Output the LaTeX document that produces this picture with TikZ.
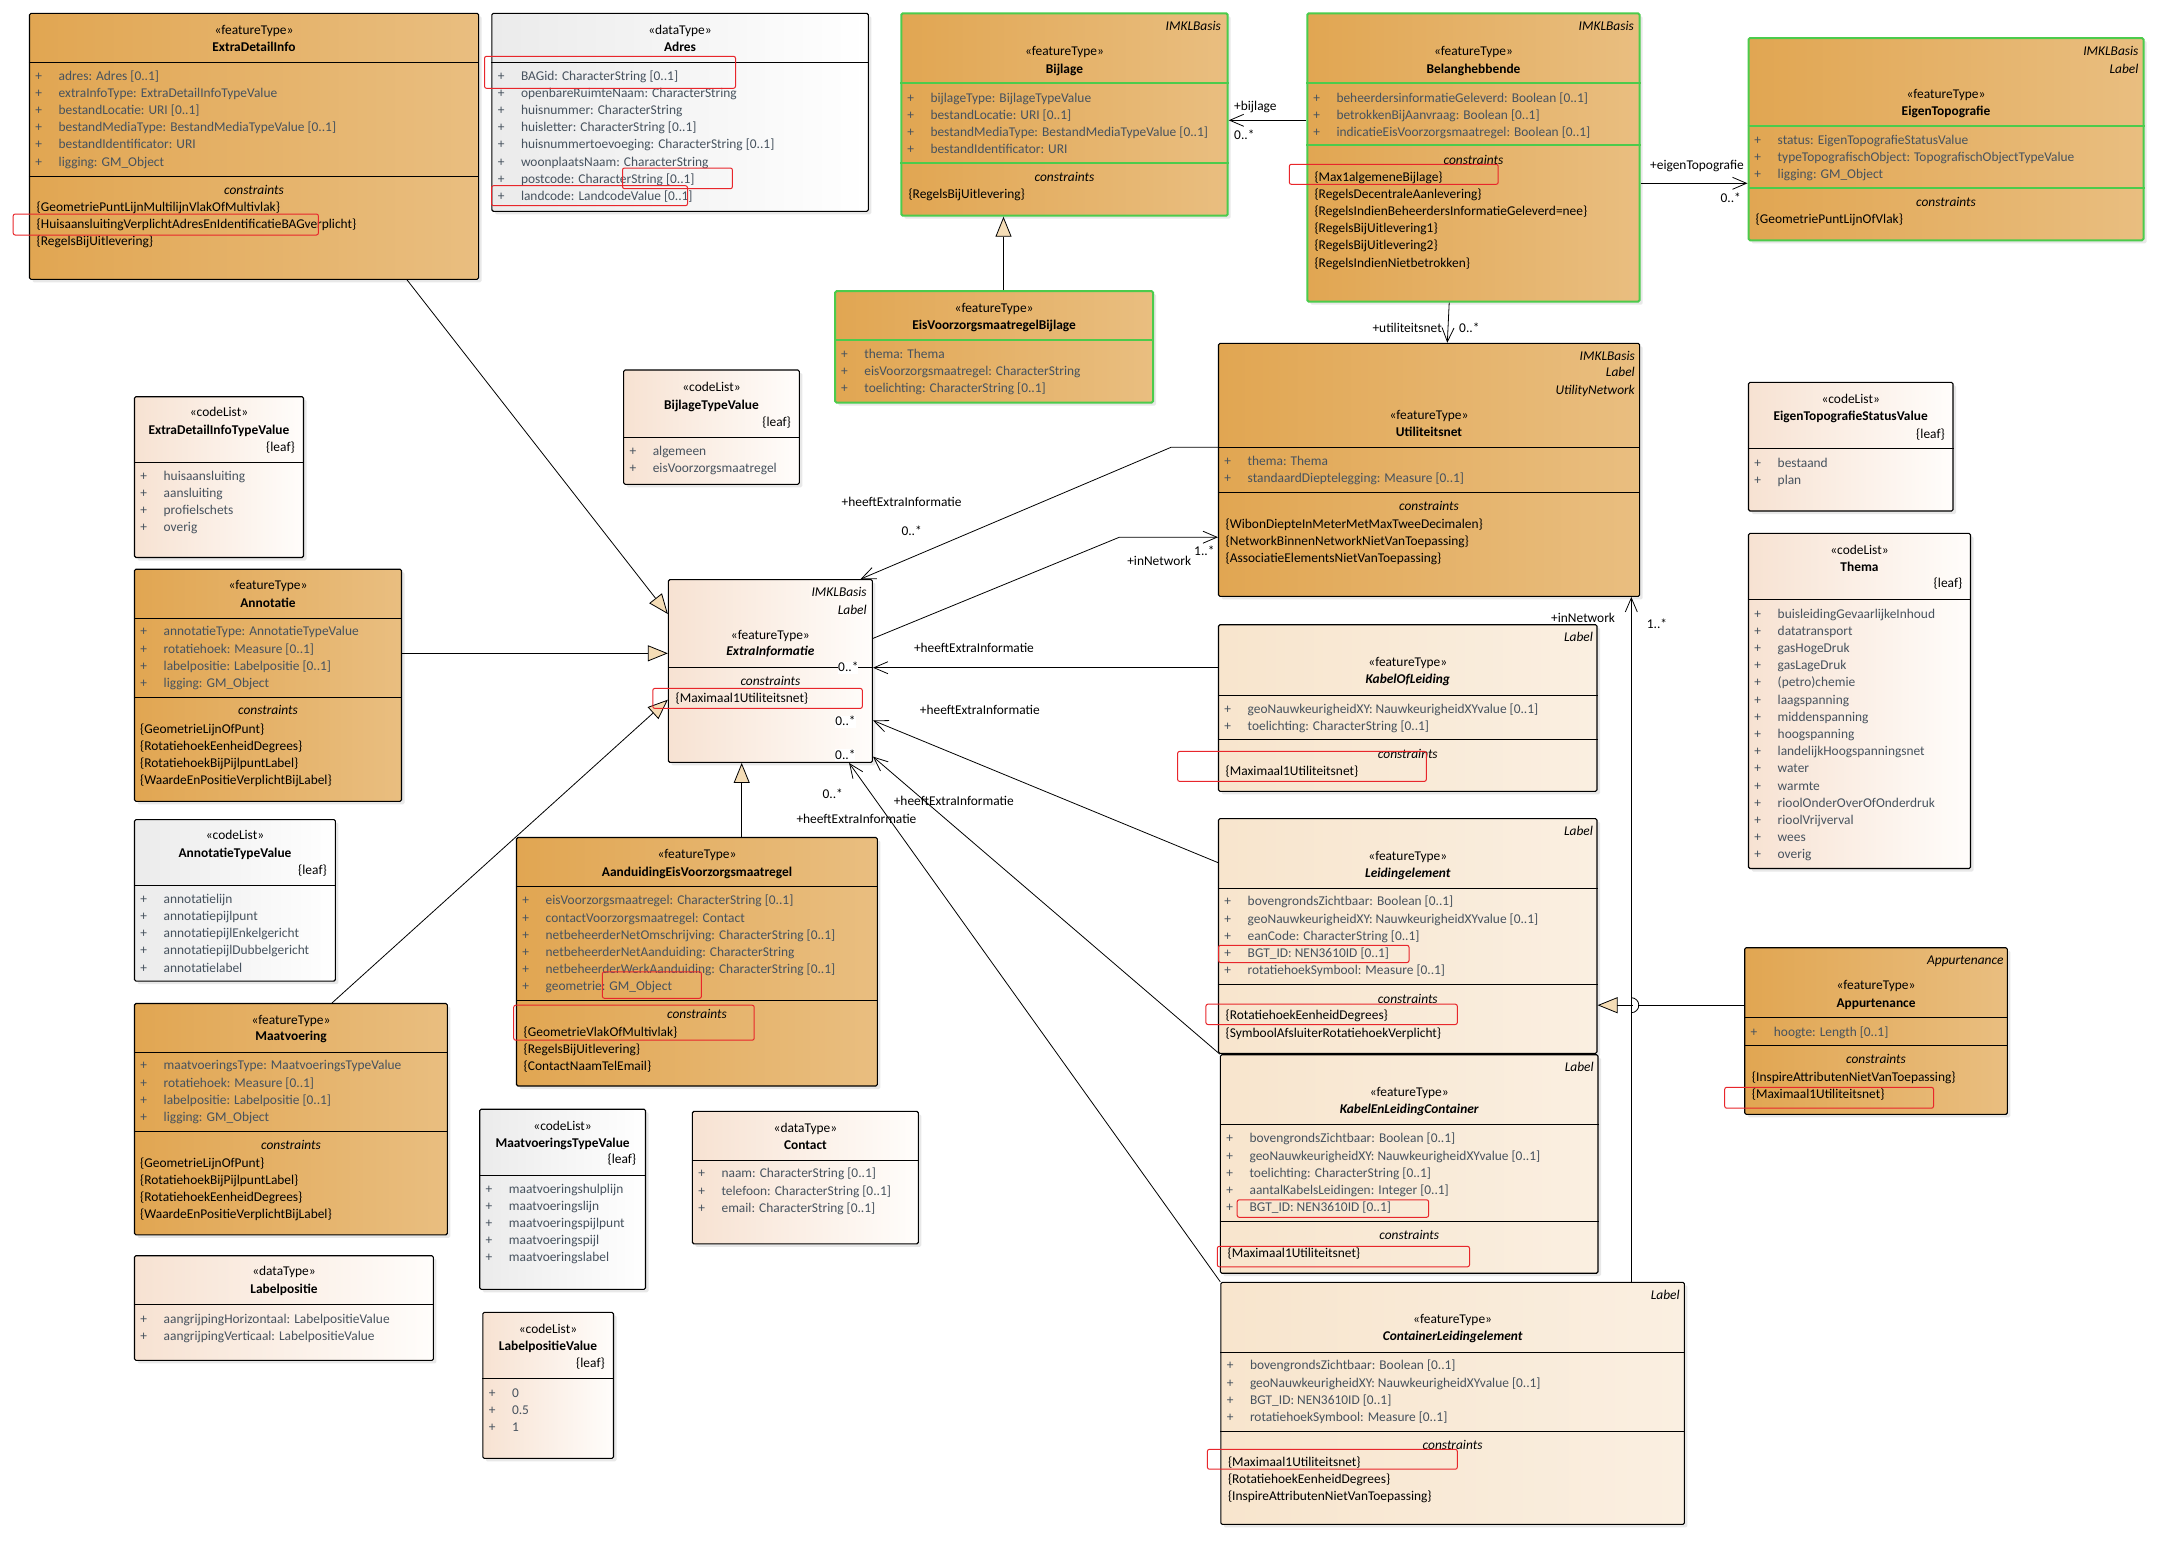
\documentclass[tikz,border=0pt]{standalone}
\usepackage{fontspec}
\setmainfont{Carlito}
\usetikzlibrary{arrows.meta, positioning, fit, shadows}
\definecolor{ftl}{HTML}{E1A652}
\definecolor{ftr}{HTML}{E9BE80}
\definecolor{cll}{HTML}{F7E2D2}
\definecolor{clr}{HTML}{FFFDFB}
\definecolor{grl}{HTML}{EBEBEB}
\definecolor{grr}{HTML}{FFFFFF}
\definecolor{bgl}{HTML}{F8E5CD}
\definecolor{bgr}{HTML}{FAEFE1}
\definecolor{grn}{HTML}{4CCB4C}
\definecolor{attrc}{HTML}{46525E}
\definecolor{tanc}{HTML}{F5DDB6}
\definecolor{markc}{HTML}{E8262B}

\newcommand{\attrrows}[4]{%
  \foreach \t [count=\i] in {#4} {%
    \node[plus] (#1p\i) at (#2+9.3, #3+17.2*\i-17.2) {+};
    \node[attr] (#1a\i) at (#2+29, #3+17.2*\i-17.2) {\t};
  }}
\newcommand{\consrows}[4]{%
  \foreach \t [count=\i] in {#4}
    \node[cons] (#1c\i) at (#2+7, #3+17.2*\i-17.2) {\t};}

\begin{document}
\begin{tikzpicture}[x=1pt, y=-1pt,
    font=\fontsize{13.4}{16}\selectfont,
    box/.style={draw, line width=1.1pt, rounded corners=1.5pt, inner sep=0pt,
      drop shadow={shadow xshift=3pt, shadow yshift=-3pt, opacity=0.18}},
    ftbox/.style={box, left color=ftl, right color=ftr},
    ftgbox/.style={ftbox, draw=grn, line width=2pt},
    clbox/.style={box, left color=cll, right color=clr},
    grbox/.style={box, left color=grl, right color=grr},
    lbbox/.style={box, left color=bgl, right color=bgr},
    seprule/.style={line width=1.1pt},
    gseprule/.style={draw=grn, line width=2pt},
    txt/.style={inner sep=0pt, text height=10pt, text depth=2pt},
    stereo/.style={txt},
    cname/.style={txt, font=\fontsize{13.4}{16}\selectfont\bfseries},
    aname/.style={txt, font=\fontsize{13.4}{16}\selectfont\bfseries\itshape},
    ctitle/.style={txt, font=\fontsize{13.4}{16}\selectfont\itshape},
    tag/.style={txt, anchor=east, font=\fontsize{13.4}{16}\selectfont\itshape},
    leaf/.style={txt, anchor=east},
    plus/.style={txt, text=attrc},
    attr/.style={txt, anchor=west, text=attrc},
    cons/.style={txt, anchor=west},
    role/.style={txt, anchor=west},
    mult/.style={txt, anchor=west, fill=white},
    redbox/.style={draw=markc, line width=1pt, rounded corners=2pt, inner sep=0pt},
    gen/.style={line width=0.8pt, -{Triangle[length=20pt, width=16pt, fill=tanc]}},
    assoc/.style={line width=0.8pt, -{Straight Barb[length=14pt, width=12pt]}}
  ]
  \useasboundingbox (0,0) rectangle (2171,1548);
  \fill[white] (0,0) rectangle (2171,1548);

  % boxes
  \node[ftbox, fit={(29.5,13.3) (478.6,279.3)}] (edi) {};
  \node[grbox, fit={(491.8,13.3) (868.3,211.3)}] (adres) {};
  \node[ftgbox, fit={(901.3,13.3) (1227.7,215.7)}] (bij) {};
  \node[ftgbox, fit={(835.2,291) (1153,402.7)}] (evb) {};
  \node[ftgbox, fit={(1307.3,13.3) (1639.6,301.7)}] (bel) {};
  \node[ftgbox, fit={(1748.5,38) (2143.5,240.3)}] (eto) {};
  \node[clbox, fit={(1748.5,382.3) (1953,511)}] (etsv) {};
  \node[clbox, fit={(1748.5,533.4) (1970.5,868.5)}] (thema) {};
  \node[ftbox, fit={(1744.7,947.7) (2007.4,1114.3)}] (app) {};
  \node[ftbox, fit={(1218.5,343.3) (1639.6,596.4)}] (util) {};
  \node[clbox, fit={(668.4,579.6) (872.4,762.4)}] (einf) {};
  \node[clbox, fit={(134.5,396.7) (303.5,557.5)}] (editv) {};
  \node[ftbox, fit={(134.5,569.2) (401.5,801.3)}] (ann) {};
  \node[grbox, fit={(134.5,819.6) (335.4,981.1)}] (atv) {};
  \node[ftbox, fit={(134.5,1003.5) (447.4,1234.8)}] (maat) {};
  \node[clbox, fit={(134.5,1255.7) (433.4,1360.4)}] (lpos) {};
  \node[ftbox, fit={(516.5,837.5) (877.3,1086)}] (aevm) {};
  \node[grbox, fit={(479.7,1109.2) (645.5,1289.4)}] (mtv) {};
  \node[clbox, fit={(692.4,1111.3) (918.3,1243.9)}] (contact) {};
  \node[clbox, fit={(482.8,1312.3) (613.5,1458.4)}] (lpv) {};
  \node[clbox, fit={(623.6,370) (799.4,484.3)}] (btv) {};
  \node[lbbox, fit={(1218.5,624.7) (1597,791.4)}] (kol) {};
  \node[lbbox, fit={(1218.5,818.6) (1597,1053.3)}] (le) {};
  \node[lbbox, fit={(1220.4,1054.7) (1598,1273.2)}] (kelc) {};
  \node[lbbox, fit={(1220.8,1282.3) (1684.4,1524.4)}] (cle) {};

  % compartments
  \foreach \b/\y in {edi/62.3, edi/176.3, adres/62.3, etsv/448.7, thema/599.2,
      app/1017.3, app/1045.3, util/447.3, util/492.3, einf/667.7, editv/462.3,
      ann/618.8, ann/697.3, atv/885.4, maat/1052.7, maat/1131.5, lpos/1304.5,
      aevm/886.4, aevm/1000.4, mtv/1175.2, contact/1160.4, lpv/1378.3, btv/437.3,
      kol/695.6, kol/739.4, le/888.8, le/984.2, kelc/1124.4, kelc/1221.4,
      cle/1352.3, cle/1431.5}
    \draw[seprule] (\b.west |- 0,\y) -- (\b.east |- 0,\y);
  \foreach \b/\y in {bij/82.7, bij/163, evb/340, bel/82.7, bel/144.7, eto/126.3, eto/188}
    \draw[gseprule] (\b.west |- 0,\y) -- (\b.east |- 0,\y);

  % ExtraDetailInfo
  \node[stereo] (edis) at (254,30) {«featureType»};
  \node[cname] (edin) at (254,47) {ExtraDetailInfo};
  \attrrows{edi}{29.5}{76}{adres: Adres [0..1], extraInfoType: ExtraDetailInfoTypeValue, bestandLocatie: URI [0..1], bestandMediaType: BestandMediaTypeValue [0..1], bestandIdentificator: URI, ligging: GM\_Object}
  \node[ctitle] (edik) at (254,190) {constraints};
  \consrows{edi}{29.5}{207}{\{GeometriePuntLijnMultilijnVlakOfMultivlak\}, \{HuisaansluitingVerplichtAdresEnIdentificatieBAGverplicht\}, \{RegelsBijUitlevering\}}

  % Adres
  \node[stereo] (adress) at (680,30) {«dataType»};
  \node[cname] (adresn) at (680,47) {Adres};
  \attrrows{adres}{491.8}{76}{BAGid: CharacterString [0..1], openbareRuimteNaam: CharacterString, huisnummer: CharacterString, huisletter: CharacterString [0..1], huisnummertoevoeging: CharacterString [0..1], woonplaatsNaam: CharacterString, postcode: CharacterString [0..1], landcode: LandcodeValue [0..1]}

  % Bijlage
  \node[tag] (bijt) at (1221,26) {IMKLBasis};
  \node[stereo] (bijs) at (1064.5,51) {«featureType»};
  \node[cname] (bijn) at (1064.5,69) {Bijlage};
  \attrrows{bij}{901.3}{98}{bijlageType: BijlageTypeValue, bestandLocatie: URI [0..1], bestandMediaType: BestandMediaTypeValue [0..1], bestandIdentificator: URI}
  \node[ctitle] (bijk) at (1064.5,177) {constraints};
  \consrows{bij}{901.3}{194}{\{RegelsBijUitlevering\}}

  % EisVoorzorgsmaatregelBijlage
  \node[stereo] (evbs) at (994.1,308) {«featureType»};
  \node[cname] (evbn) at (994.1,325) {EisVoorzorgsmaatregelBijlage};
  \attrrows{evb}{835.2}{354}{thema: Thema, eisVoorzorgsmaatregel: CharacterString, toelichting: CharacterString [0..1]}

  % Belanghebbende
  \node[tag] (belt) at (1634,26) {IMKLBasis};
  \node[stereo] (bels) at (1473.5,51) {«featureType»};
  \node[cname] (beln) at (1473.5,69) {Belanghebbende};
  \attrrows{bel}{1307.3}{98}{beheerdersinformatieGeleverd: Boolean [0..1], betrokkenBijAanvraag: Boolean [0..1], indicatieEisVoorzorgsmaatregel: Boolean [0..1]}
  \node[ctitle] (belk) at (1473.5,160) {constraints};
  \consrows{bel}{1307.3}{177}{\{Max1algemeneBijlage\}, \{RegelsDecentraleAanlevering\}, \{RegelsIndienBeheerdersInformatieGeleverd=nee\}, \{RegelsBijUitlevering1\}, \{RegelsBijUitlevering2\}, \{RegelsIndienNietbetrokken\}}

  % EigenTopografie
  \node[tag] (etot1) at (2138.6,51) {IMKLBasis};
  \node[tag] (etot2) at (2138.6,69) {Label};
  \node[stereo] (etos) at (1946,94) {«featureType»};
  \node[cname] (eton) at (1946,111) {EigenTopografie};
  \attrrows{eto}{1748.5}{140}{status: EigenTopografieStatusValue, typeTopografischObject: TopografischObjectTypeValue, ligging: GM\_Object}
  \node[ctitle] (etok) at (1946,202) {constraints};
  \consrows{eto}{1748.5}{219}{\{GeometriePuntLijnOfVlak\}}

  % EigenTopografieStatusValue
  \node[stereo] (etsvs) at (1850.7,399) {«codeList»};
  \node[cname] (etsvn) at (1850.7,416) {EigenTopografieStatusValue};
  \node[leaf] (etsvl) at (1945,434) {\{leaf\}};
  \attrrows{etsv}{1748.5}{463}{bestaand, plan}

  % Thema
  \node[stereo] (themas) at (1859.5,550) {«codeList»};
  \node[cname] (teman) at (1859.5,567) {Thema};
  \node[leaf] (themal) at (1962.5,583.7) {\{leaf\}};
  \attrrows{thema}{1748.5}{614}{buisleidingGevaarlijkeInhoud, datatransport, gasHogeDruk, gasLageDruk, (petro)chemie, laagspanning, middenspanning, hoogspanning, landelijkHoogspanningsnet, water, warmte, rioolOnderOverOfOnderdruk, rioolVrijverval, wees, overig}

  % Appurtenance
  \node[tag] (appt) at (2003.6,960) {Appurtenance};
  \node[stereo] (apps) at (1876,985) {«featureType»};
  \node[cname] (appn) at (1876,1003) {Appurtenance};
  \attrrows{app}{1744.7}{1032}{hoogte: Length [0..1]}
  \node[ctitle] (appk) at (1876,1059) {constraints};
  \consrows{app}{1744.7}{1077}{\{InspireAttributenNietVanToepassing\}, \{Maximaal1Utiliteitsnet\}}

  % Utiliteitsnet
  \node[tag] (utilt1) at (1635,356) {IMKLBasis};
  \node[tag] (utilt2) at (1635,372.7) {Label};
  \node[tag] (utilt3) at (1635,390) {UtilityNetwork};
  \node[stereo] (utils) at (1429,415) {«featureType»};
  \node[cname] (utiln) at (1429,432) {Utiliteitsnet};
  \attrrows{util}{1218.5}{461}{thema: Thema, standaardDieptelegging: Measure [0..1]}
  \node[ctitle] (utilk) at (1429,506.3) {constraints};
  \consrows{util}{1218.5}{524.1}{\{WibonDiepteInMeterMetMaxTweeDecimalen\}, \{NetworkBinnenNetworkNietVanToepassing\}, \{AssociatieElementsNietVanToepassing\}}

  % ExtraInformatie
  \node[tag] (einft1) at (866.9,592) {IMKLBasis};
  \node[tag] (einft2) at (866.9,610) {Label};
  \node[stereo] (einfs) at (770.4,635) {«featureType»};
  \node[aname] (einfn) at (770.4,651.9) {ExtraInformatie};
  \node[ctitle] (einfk) at (770.4,681) {constraints};
  \consrows{einf}{668.4}{698}{\{Maximaal1Utiliteitsnet\}}

  % ExtraDetailInfoTypeValue
  \node[stereo] (editvs) at (219,412) {«codeList»};
  \node[cname] (editvn) at (219,430) {ExtraDetailInfoTypeValue};
  \node[leaf] (editvl) at (295,447) {\{leaf\}};
  \attrrows{editv}{134.5}{476}{huisaansluiting, aansluiting, profielschets, overig}

  % Annotatie
  \node[stereo] (anns) at (268,585.8) {«featureType»};
  \node[cname] (annn) at (268,603) {Annotatie};
  \attrrows{ann}{134.5}{631.9}{annotatieType: AnnotatieTypeValue, rotatiehoek: Measure [0..1], labelpositie: Labelpositie [0..1], ligging: GM\_Object}
  \node[ctitle] (annk) at (268,710.8) {constraints};
  \consrows{ann}{133}{729}{\{GeometrieLijnOfPunt\}, \{RotatiehoekEenheidDegrees\}, \{RotatiehoekBijPijlpuntLabel\}, \{WaardeEnPositieVerplichtBijLabel\}}

  % AnnotatieTypeValue
  \node[stereo] (atvs) at (235,835.8) {«codeList»};
  \node[cname] (atvn) at (235,853) {AnnotatieTypeValue};
  \node[leaf] (atvl) at (327,870.2) {\{leaf\}};
  \attrrows{atv}{134.5}{899.2}{annotatielijn, annotatiepijlpunt, annotatiepijlEnkelgericht, annotatiepijlDubbelgericht, annotatielabel}

  % Maatvoering
  \node[stereo] (maats) at (291,1020) {«featureType»};
  \node[cname] (maatn) at (291,1036.8) {Maatvoering};
  \attrrows{maat}{134.5}{1065.8}{maatvoeringsType: MaatvoeringsTypeValue, rotatiehoek: Measure [0..1], labelpositie: Labelpositie [0..1], ligging: GM\_Object}
  \node[ctitle] (maatk) at (291,1145) {constraints};
  \consrows{maat}{133}{1163}{\{GeometrieLijnOfPunt\}, \{RotatiehoekBijPijlpuntLabel\}, \{RotatiehoekEenheidDegrees\}, \{WaardeEnPositieVerplichtBijLabel\}}

  % Labelpositie
  \node[stereo] (lposs) at (284,1271.9) {«dataType»};
  \node[cname] (lposn) at (284,1289.7) {Labelpositie};
  \attrrows{lpos}{134.5}{1319}{aangrijpingHorizontaal: LabelpositieValue, aangrijpingVerticaal: LabelpositieValue}

  % AanduidingEisVoorzorgsmaatregel
  \node[stereo] (aevms) at (697,854) {«featureType»};
  \node[cname] (aevmn) at (697,872) {AanduidingEisVoorzorgsmaatregel};
  \attrrows{aevm}{516.5}{900.9}{eisVoorzorgsmaatregel: CharacterString [0..1], contactVoorzorgsmaatregel: Contact, netbeheerderNetOmschrijving: CharacterString [0..1], netbeheerderNetAanduiding: CharacterString, netbeheerderWerkAanduiding: CharacterString [0..1], geometrie: GM\_Object}
  \node[ctitle] (aevmk) at (697,1014.2) {constraints};
  \consrows{aevm}{516.5}{1032}{\{GeometrieVlakOfMultivlak\}, \{RegelsBijUitlevering\}, \{ContactNaamTelEmail\}}

  % MaatvoeringsTypeValue
  \node[stereo] (mtvs) at (562.6,1126) {«codeList»};
  \node[cname] (mtvn) at (562.6,1143) {MaatvoeringsTypeValue};
  \node[leaf] (mtvl) at (636.4,1159.7) {\{leaf\}};
  \attrrows{mtv}{479.7}{1189}{maatvoeringshulplijn, maatvoeringslijn, maatvoeringspijlpunt, maatvoeringspijl, maatvoeringslabel}

  % Contact
  \node[stereo] (contacts) at (805.4,1128) {«dataType»};
  \node[cname] (contactn) at (805.4,1145) {Contact};
  \attrrows{contact}{692.4}{1173.9}{naam: CharacterString [0..1], telefoon: CharacterString [0..1], email: CharacterString [0..1]}

  % LabelpositieValue
  \node[stereo] (lpvs) at (548,1329) {«codeList»};
  \node[cname] (lpvn) at (548,1346) {LabelpositieValue};
  \node[leaf] (lpvl) at (605,1363.8) {\{leaf\}};
  \attrrows{lpv}{482.8}{1393}{0, 0.5, 1}

  % BijlageTypeValue
  \node[stereo] (btvs) at (711.5,387) {«codeList»};
  \node[cname] (btvn) at (711.5,405) {BijlageTypeValue};
  \node[leaf] (btvl) at (791.1,422) {\{leaf\}};
  \attrrows{btv}{623.6}{451}{algemeen, eisVoorzorgsmaatregel}

  % KabelOfLeiding
  \node[tag] (kolt) at (1593.1,637) {Label};
  \node[stereo] (kols) at (1407.8,662.9) {«featureType»};
  \node[aname] (koln) at (1407.8,679.8) {KabelOfLeiding};
  \attrrows{kol}{1218.5}{709}{geoNauwkeurigheidXY: NauwkeurigheidXYvalue [0..1], toelichting: CharacterString [0..1]}
  \node[ctitle] (kolk) at (1407.8,754.2) {constraints};
  \consrows{kol}{1218.5}{771}{\{Maximaal1Utiliteitsnet\}}

  % Leidingelement
  \node[tag] (let) at (1593.1,831) {Label};
  \node[stereo] (les) at (1407.8,856.1) {«featureType»};
  \node[aname] (len) at (1407.8,873) {Leidingelement};
  \attrrows{le}{1218.5}{901.9}{bovengrondsZichtbaar: Boolean [0..1], geoNauwkeurigheidXY: NauwkeurigheidXYvalue [0..1], eanCode: CharacterString [0..1], BGT\_ID: NEN3610ID [0..1], rotatiehoekSymbool: Measure [0..1]}
  \node[ctitle] (lek) at (1407.8,999) {constraints};
  \consrows{le}{1218.5}{1015.9}{\{RotatiehoekEenheidDegrees\}, \{SymboolAfsluiterRotatiehoekVerplicht\}}

  % KabelEnLeidingContainer
  \node[tag] (kelct) at (1593.9,1067.1) {Label};
  \node[stereo] (kelcs) at (1409.2,1092) {«featureType»};
  \node[aname] (kelcn) at (1409.2,1109.6) {KabelEnLeidingContainer};
  \attrrows{kelc}{1220.4}{1138.9}{bovengrondsZichtbaar: Boolean [0..1], geoNauwkeurigheidXY: NauwkeurigheidXYvalue [0..1], toelichting: CharacterString [0..1], aantalKabelsLeidingen: Integer [0..1], BGT\_ID: NEN3610ID [0..1]}
  \node[ctitle] (kelck) at (1409.2,1235.2) {constraints};
  \consrows{kelc}{1220.4}{1253}{\{Maximaal1Utiliteitsnet\}}

  % ContainerLeidingelement
  \node[tag] (clet) at (1679.9,1295) {Label};
  \node[stereo] (cles) at (1452.6,1319.7) {«featureType»};
  \node[aname] (clen) at (1452.6,1336.9) {ContainerLeidingelement};
  \attrrows{cle}{1220.8}{1365.8}{bovengrondsZichtbaar: Boolean [0..1], geoNauwkeurigheidXY: NauwkeurigheidXYvalue [0..1], BGT\_ID: NEN3610ID [0..1], rotatiehoekSymbool: Measure [0..1]}
  \node[ctitle] (clek) at (1452.6,1445.6) {constraints};
  \consrows{cle}{1220.8}{1462.4}{\{Maximaal1Utiliteitsnet\}, \{RotatiehoekEenheidDegrees\}, \{InspireAttributenNietVanToepassing\}}

  % generalisations
  \draw[gen] (evb.north -| 1003.5,0) -- (bij.south -| 1003.5,0);
  \draw[gen] (edi.south -| 407,0) -- (einf.west |- 0,614);
  \draw[gen] (ann.east |- 0,653.3) -- (einf.west |- 0,653.3);
  \draw[gen] (maat.north -| 332,0) -- (einf.west |- 0,699.7);
  \draw[gen] (aevm.north -| 741.7,0) -- (einf.south -| 741.7,0);
  \draw[gen] (app.west |- 0,1005.2) -- (le.east |- 0,1005.2);
  \draw[white, line width=1.6pt] (1632.6,1005.2) -- (1638.4,1005.2);
  \draw[line width=0.8pt] (1631.3,997.7) arc[start angle=90, end angle=-90, radius=7.5pt];

  % associations
  \coordinate (b1) at (1171,447.3);
  \coordinate (b2) at (1119.4,537.2);
  \draw[assoc] (bel.west |- 0,120.3) -- (bij.east |- 0,120.3);
  \draw[assoc] (bel.east |- 0,183.3) -- (eto.west |- 0,183.3);
  \draw[assoc] (bel.south -| 1449.2,0) -- (util.north -| 1447.3,0);
  \draw[assoc] (util.west |- 0,447.3) -- (b1) -- (einf.north -| 860.6,0);
  \draw[assoc] (einf.east |- 0,638.4) -- (b2) -- (util.west |- 0,537.2);
  \draw[assoc] (kol.west |- 0,667.7) -- (einf.east |- 0,667.7);
  \draw[assoc] (le.west |- 0,862.6) -- (einf.east |- 0,720.4);
  \draw[assoc] (kelc.north west) -- (einf.east |- 0,756.6);
  \draw[assoc] (cle.north west) -- (einf.south -| 849.1,0);
  \draw[assoc] (cle.north -| 1631.3,0) -- (util.south -| 1631.3,0);

  % roles and multiplicities
  \node[role] (rb) at (1234,106) {+bijlage};
  \node[mult] (mb) at (1234,135) {0..*};
  \node[role, anchor=east] (re) at (1744,165) {+eigenTopografie};
  \node[mult, anchor=east] (me) at (1741,198) {0..*};
  \node[role, anchor=east] (ru) at (1442,328) {+utiliteitsnet};
  \node[mult] (mu) at (1459,328) {0..*};
  \node[role] (rx1) at (841.5,502) {+heeftExtraInformatie};
  \node[mult] (mx1) at (901.3,531.7) {0..*};
  \node[role, anchor=east] (rn1) at (1191.3,561.3) {+inNetwork};
  \node[mult] (mn1) at (1194,551.7) {1..*};
  \node[role] (rx2) at (913.8,648.8) {+heeftExtraInformatie};
  \node[mult] (mx2) at (838,667.7) {0..*};
  \node[role] (rx3) at (919.7,710) {+heeftExtraInformatie};
  \node[mult] (mx3) at (835.2,721.8) {0..*};
  \node[role] (rx4) at (893.6,801) {+heeftExtraInformatie};
  \node[mult] (mx4) at (835,755) {0..*};
  \node[role] (rx5) at (796.3,819) {+heeftExtraInformatie};
  \node[mult] (mx5) at (822.4,794.5) {0..*};
  \node[role, fill=white] (rn2) at (1551,618) {+inNetwork};
  \node[mult] (mn2) at (1646.7,624.3) {1..*};

  % review marks
  \node[redbox, fit={(13.2,214) (318.4,235)}] (k1) {};
  \node[redbox, fit={(484.5,56.3) (735.5,88.3)}] (k2) {};
  \node[redbox, fit={(622.5,168) (732.4,188.7)}] (k3) {};
  \node[redbox, fit={(491.5,185.7) (687.5,205.7)}] (k4) {};
  \node[redbox, fit={(1289.3,164.3) (1498.2,184.3)}] (k5) {};
  \node[redbox, fit={(652.8,688.4) (862.3,708.4)}] (k6) {};
  \node[redbox, fit={(1177.6,751.4) (1426.3,781.4)}] (k7) {};
  \node[redbox, fit={(1218.5,945.3) (1409,962.5)}] (k8) {};
  \node[redbox, fit={(1205.9,1004.2) (1457.3,1024.5)}] (k9) {};
  \node[redbox, fit={(602.4,971.8) (701.4,998.3)}] (k10) {};
  \node[redbox, fit={(513.7,1005.2) (754.2,1040.2)}] (k11) {};
  \node[redbox, fit={(1724.7,1087.3) (1933.5,1108.2)}] (k12) {};
  \node[redbox, fit={(1237.2,1199.8) (1428.6,1217.3)}] (k13) {};
  \node[redbox, fit={(1217.3,1246.3) (1469.5,1266.8)}] (k14) {};
  \node[redbox, fit={(1207.4,1449.3) (1457.3,1469.2)}] (k15) {};
\end{tikzpicture}
\end{document}
